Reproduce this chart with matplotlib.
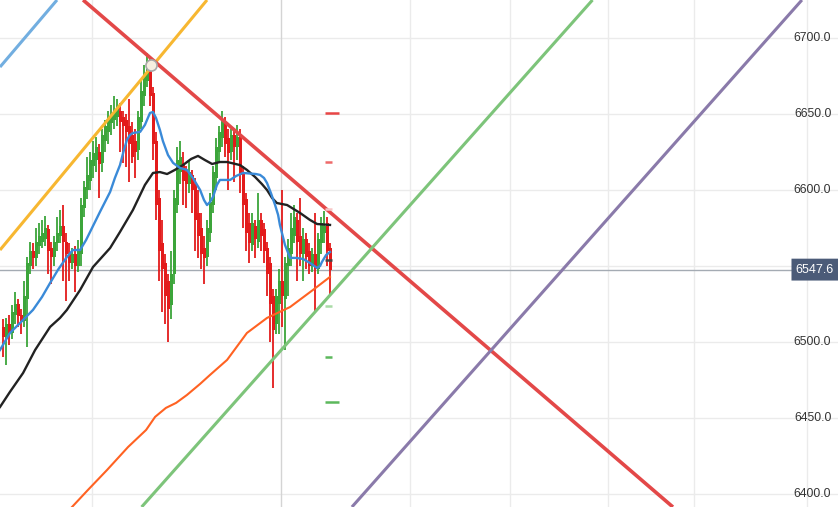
import numpy as np
import matplotlib
matplotlib.use("Agg")
import matplotlib.pyplot as plt
from matplotlib.patches import FancyBboxPatch

plt.rcParams['font.family'] = ['Liberation Sans', 'DejaVu Sans']

# candles (bar index 0..109), prices
opens = [6510, 6503, 6512, 6506, 6518, 6525, 6518, 6514, 6528, 6550,
         6560, 6555, 6563, 6566, 6568, 6574, 6562, 6556, 6565, 6570,
         6576, 6566, 6558, 6552, 6558, 6550, 6558, 6588, 6600, 6606,
         6616, 6620, 6625, 6618, 6632, 6638, 6644, 6646, 6648, 6652,
         6648, 6646, 6642, 6636, 6632, 6626, 6645, 6662, 6672, 6682,
         6664, 6632, 6595, 6565, 6552, 6540, 6524, 6545, 6590, 6612,
         6618, 6612, 6604, 6610, 6604, 6585, 6575, 6562, 6556, 6572,
         6590, 6608, 6625, 6634, 6644, 6634, 6625, 6636, 6628, 6636,
         6612, 6594, 6578, 6564, 6576, 6566, 6580, 6574, 6562, 6552,
         6530, 6512, 6525, 6540, 6528, 6550, 6558, 6570, 6580, 6570,
         6558, 6568, 6560, 6550, 6558, 6548, 6565, 6572, 6578, 6562]
closes = [6503, 6512, 6506, 6520, 6525, 6517, 6513, 6530, 6552, 6560,
          6555, 6566, 6570, 6572, 6575, 6560, 6556, 6566, 6572, 6576,
          6566, 6558, 6552, 6558, 6550, 6560, 6590, 6602, 6610, 6620,
          6624, 6628, 6617, 6636, 6642, 6647, 6650, 6652, 6654, 6645,
          6642, 6638, 6630, 6622, 6625, 6648, 6665, 6676, 6684, 6662,
          6630, 6590, 6560, 6548, 6530, 6522, 6545, 6595, 6620, 6622,
          6606, 6604, 6612, 6600, 6580, 6570, 6558, 6555, 6575, 6592,
          6612, 6628, 6638, 6645, 6630, 6624, 6636, 6628, 6635, 6610,
          6590, 6572, 6565, 6578, 6568, 6580, 6570, 6560, 6545, 6525,
          6508, 6530, 6540, 6530, 6552, 6562, 6575, 6582, 6566, 6558,
          6568, 6556, 6550, 6558, 6548, 6568, 6578, 6576, 6560, 6547.6]
highs = [6515, 6516, 6518, 6524, 6533, 6528, 6522, 6540, 6556, 6566,
         6565, 6575, 6578, 6580, 6583, 6577, 6566, 6570, 6582, 6587,
         6590, 6572, 6565, 6562, 6563, 6567, 6595, 6606, 6622, 6625,
         6632, 6635, 6630, 6640, 6646, 6652, 6656, 6662, 6660, 6657,
         6652, 6650, 6660, 6645, 6640, 6652, 6672, 6682, 6690, 6687,
         6668, 6638, 6600, 6580, 6558, 6545, 6560, 6600, 6628, 6632,
         6625, 6616, 6620, 6613, 6608, 6600, 6585, 6570, 6580, 6598,
         6616, 6634, 6642, 6652, 6648, 6640, 6640, 6640, 6643, 6640,
         6616, 6598, 6585, 6585, 6580, 6598, 6585, 6578, 6566, 6556,
         6535, 6535, 6548, 6600, 6556, 6568, 6585, 6590, 6585, 6595,
         6575, 6572, 6565, 6562, 6585, 6572, 6582, 6586, 6582, 6565]
lows = [6490, 6485, 6498, 6502, 6512, 6510, 6505, 6510, 6497, 6545,
        6548, 6550, 6558, 6562, 6563, 6545, 6538, 6550, 6560, 6565,
        6540, 6527, 6540, 6548, 6533, 6546, 6550, 6582, 6594, 6600,
        6608, 6612, 6595, 6612, 6625, 6630, 6636, 6640, 6642, 6625,
        6618, 6615, 6605, 6618, 6608, 6620, 6640, 6655, 6668, 6655,
        6620, 6580, 6540, 6520, 6512, 6500, 6515, 6538, 6585, 6604,
        6590, 6588, 6598, 6585, 6560, 6555, 6548, 6538, 6550, 6566,
        6585, 6600, 6618, 6628, 6622, 6600, 6620, 6605, 6620, 6598,
        6575, 6560, 6552, 6560, 6555, 6562, 6560, 6552, 6530, 6500,
        6470, 6505, 6505, 6510, 6495, 6530, 6550, 6565, 6540, 6550,
        6540, 6548, 6545, 6546, 6520, 6545, 6558, 6565, 6550, 6530]

# moving averages (bar position, price)
ma_fast_x = [-1, 2.3, 5.7, 10, 13, 15.7, 18.3, 21.3, 23.3, 25.7, 27.7, 30, 32.3, 35.7,
             37.3, 39, 40.3, 41.3, 42.3, 43.3, 45.7, 47.3, 49, 50, 51, 52.3, 53.3, 55,
             56.7, 59, 61.3, 63.3, 65.7, 67, 68, 69, 70, 71.3, 72.3, 75.7, 77.7, 80,
             84.3, 85.7, 87, 88, 89.3, 90.7, 91.7, 92.3, 94, 95.7, 97.7, 100, 102.3,
             104.7, 105.7, 106.3, 107.7, 109]
ma_fast = [6494.7, 6505.9, 6512.5, 6521.1, 6529.6, 6538.8, 6547.4, 6555.9, 6560.5, 6560.5,
           6567.1, 6576.3, 6585.5, 6598.7, 6607.9, 6616.4, 6626.3, 6632.9, 6636.2, 6637.5,
           6638.2, 6642.8, 6650.7, 6651.3, 6647.4, 6639.5, 6632.2, 6623.0, 6617.8, 6614.5,
           6613.2, 6607.9, 6600.0, 6593.4, 6590.1, 6592.1, 6595.4, 6603.3, 6606.6, 6606.6,
           6609.2, 6611.2, 6610.5, 6609.9, 6607.9, 6604.6, 6598.0, 6590.1, 6583.6, 6577.0,
           6563.8, 6555.3, 6555.3, 6554.6, 6552.0, 6548.7, 6550.0, 6552.6, 6557.2, 6559.2]
ma_mid_x = [-1, 2.3, 6.7, 10.7, 15.7, 19, 21.3, 25.7, 30, 35.7, 39, 43.3, 47.3, 50,
            52.3, 54.7, 57.3, 60, 62.7, 65, 67.3, 69.7, 72.3, 74.7, 79, 81.3, 84, 86.3,
            88, 89.7, 91.3, 94.7, 99, 102.3, 104.7, 109]
ma_mid = [6457.2, 6467.1, 6479.6, 6494.7, 6509.9, 6515.8, 6521.1, 6534.2, 6549.3, 6561.8,
          6572.4, 6586.8, 6603.3, 6611.2, 6611.8, 6610.5, 6613.2, 6616.4, 6620.4, 6622.4,
          6619.7, 6617.1, 6618.4, 6618.4, 6616.4, 6613.2, 6608.6, 6603.9, 6600.0, 6594.7,
          6591.4, 6590.1, 6584.9, 6580.3, 6577.6, 6577.0]
ma_slow_x = [19, 23, 28.3, 34.7, 41.7, 47.7, 50.7, 54.3, 57.7, 61.3, 65.7, 69, 74.7,
             81.3, 88, 95.7, 103.3, 109]
ma_slow = [6382.9, 6391.4, 6402.6, 6415.8, 6430.9, 6442.1, 6450.7, 6456.6, 6459.9, 6465.1,
           6472.4, 6478.3, 6488.2, 6505.9, 6515.8, 6523.0, 6534.2, 6542.8]

# trend lines: two points each (bar, price)
trend_lines = {
    'lightblue': ((-1, 6680.9), (18, 6725.0)),
    'orange':    ((-1, 6560.5), (68, 6725.0)),
    'red':       ((26.7, 6725.0), (223.3, 6391.4)),
    'green':     ((46.2, 6391.4), (196.5, 6725.0)),
    'purple':    ((116.3, 6391.4), (266.3, 6725.0)),
}
trend_colors = {'lightblue': '#72aee0', 'orange': '#f7b731', 'red': '#e34848',
                'green': '#7dc47a', 'purple': '#8a7aaa'}
trend_widths = {'lightblue': 2.2, 'orange': 2.2, 'red': 2.6, 'green': 2.2, 'purple': 2.2}

pivot_point = (49.3, 6682.2)

# level marks to the right of the last candle
level_prices = [6650.7, 6618.4, 6587.5, 6554.0, 6523.7, 6490.1, 6460.5]
level_colors = ['#e84545', '#ee6a6a', '#f8c6c6', '#444444', '#a9dba6', '#5cb85c', '#5cb85c']
level_long = [True, False, False, False, False, False, True]

last_price = 6547.6
grid_levels = [6400, 6450, 6500, 6550, 6600, 6650, 6700]
y_labels = [6400, 6450, 6500, 6600, 6650, 6700]
x_grid = [29.7, 92.7, 135.7, 169, 201.7, 230.3, 268]

fig = plt.figure(figsize=(8.38, 5.07), dpi=100)
ax = fig.add_axes([0, 0, 1, 1])
ax.set_xlim(-1, 278.33)
ax.set_ylim(6391.4, 6725)
ax.axis('off')

for yv in grid_levels:
    ax.axhline(yv, color='#ebebeb', lw=1, zorder=0)
for i, xv in enumerate(x_grid):
    ax.axvline(xv, color='#d4d4d4' if i == 1 else '#ebebeb', lw=1, zorder=0)

ax.axhline(last_price, color='#a4abb3', lw=1, zorder=1)

# candles
idx = np.arange(len(closes))
o = np.array(opens)
c = np.array(closes)
up = c >= o
col = np.where(up, '#3ca53a', '#e31b1b')
ax.vlines(idx, lows, highs, colors=col, lw=1.3, zorder=2)
body_h = np.maximum(np.abs(c - o), 0.8)
ax.bar(idx, body_h, bottom=np.minimum(o, c), width=1.0, color=col, zorder=3, lw=0,
       antialiased=False)

ax.plot(ma_slow_x, ma_slow, color='#ff6222', lw=1.5, zorder=4)
ax.plot(ma_mid_x, ma_mid, color='#222222', lw=1.7, zorder=4)
ax.plot(ma_fast_x, ma_fast, color='#3a8ad8', lw=1.7, zorder=4)

for name, (p1, p2) in trend_lines.items():
    ax.axline(p1, p2, color=trend_colors[name], lw=trend_widths[name], zorder=5,
              solid_capstyle='butt')

ax.plot(*pivot_point, marker='o', ms=8, mfc='#f6efe0', mec='#a8a8a8', mew=1.2, zorder=6)

for p, cl, lg in zip(level_prices, level_colors, level_long):
    x1 = 112 if lg else 109.7
    ax.plot([107.3, x1], [p, p], color=cl, lw=1.8, zorder=5, solid_capstyle='butt')

# right-side price labels
tr = ax.get_yaxis_transform()
for yv in y_labels:
    ax.text(0.992, yv, f"{yv:.1f}", transform=tr, ha='right', va='center',
            fontsize=8.8, color='#333333', zorder=7)

box = FancyBboxPatch((0.9445, last_price - 7.2), 0.0555, 14.4, transform=tr,
                     boxstyle='round,pad=0,rounding_size=0.004', fc='#4b5b78', ec='none',
                     zorder=8, clip_on=False)
ax.add_patch(box)
ax.text(0.9722, last_price, f"{last_price:.1f}", transform=tr, ha='center', va='center',
        fontsize=9, color='white', zorder=9)

fig.savefig('out.png', dpi=100)
